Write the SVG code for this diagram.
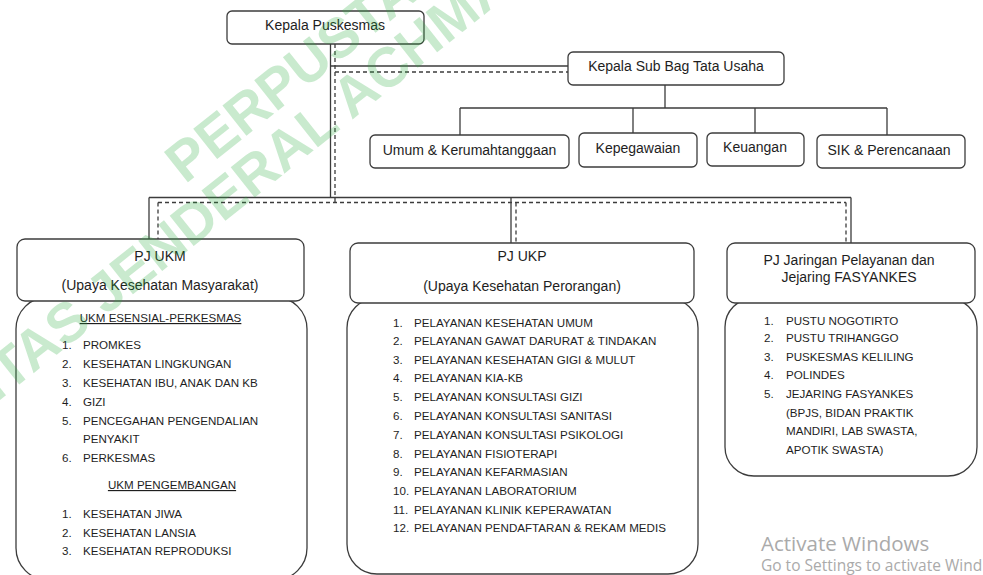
<svg xmlns="http://www.w3.org/2000/svg" width="983" height="575" viewBox="0 0 983 575">
<style>
.box{fill:#fff;stroke:#3c3c3c;stroke-width:1.3}
.ln{fill:none;stroke:#3c3c3c;stroke-width:1.3}
.ds{stroke-dasharray:4 3}
.h{font-family:"Liberation Sans",Arial,sans-serif;font-size:14px;fill:#1e1e1e}
.c{text-anchor:middle}
.li{font-family:"Liberation Sans",Arial,sans-serif;font-size:11.6px;fill:#1e1e1e}
.u{text-decoration:underline}
.wm{font-family:"Liberation Sans",Arial,sans-serif;font-weight:bold;font-size:56px;fill:#28aa3c;fill-opacity:0.25}
.win{font-family:"Open Sans","Noto Sans",sans-serif;fill:#aaaaaa}
</style>
<rect width="983" height="575" fill="#fff"/>
<g id="connectors">
  <path class="ln" d="M330.5 44V197.5M330.5 66H568"/>
  <path class="ln ds" d="M335 44V202.5M335 72H568"/>
  <path class="ln" d="M665 85V108M460 108H887M460 108V135M633 108V133M755 108V133M887 108V135"/>
  <path class="ln" d="M149 197.5H851M149 197.5V239M511 197.5V243M851 197.5V243"/>
  <path class="ln ds" d="M158 202.5H846M158 202.5V239M516 202.5V243M846 202.5V243"/>
</g>
<g id="kepala-puskesmas">
  <rect class="box" x="227" y="11" width="197" height="33" rx="5"/>
  <text class="h c" x="325" y="30">Kepala Puskesmas</text>
</g>
<g id="kepala-sub-bag">
  <rect class="box" x="568" y="52" width="216" height="33" rx="5"/>
  <text class="h c" x="676" y="71">Kepala Sub Bag Tata Usaha</text>
</g>
<g id="umum">
  <rect class="box" x="370" y="135" width="199" height="33" rx="5"/>
  <text class="h c" x="469.5" y="155">Umum &amp; Kerumahtanggaan</text>
</g>
<g id="kepegawaian">
  <rect class="box" x="579" y="133" width="118" height="34" rx="5"/>
  <text class="h c" x="638" y="153">Kepegawaian</text>
</g>
<g id="keuangan">
  <rect class="box" x="707" y="133" width="97" height="33" rx="5"/>
  <text class="h c" x="755" y="152">Keuangan</text>
</g>
<g id="sik">
  <rect class="box" x="817" y="135" width="148" height="33" rx="5"/>
  <text class="h c" x="889" y="155">SIK &amp; Perencanaan</text>
</g>
<g id="pj-ukm">
  <rect class="box" x="16" y="297" width="291" height="283" rx="32"/>
  <rect class="box" x="17" y="239" width="287" height="62" rx="8"/>
  <text class="h c" x="160" y="261">PJ UKM</text>
  <text class="h c" x="160" y="290">(Upaya Kesehatan Masyarakat)</text>
  <text class="li c u" x="160.5" y="322">UKM ESENSIAL-PERKESMAS</text>
  <text class="li" x="62" y="349">1.</text><text class="li" x="83" y="349">PROMKES</text>
  <text class="li" x="62" y="368">2.</text><text class="li" x="83" y="368">KESEHATAN LINGKUNGAN</text>
  <text class="li" x="62" y="387">3.</text><text class="li" x="83" y="387">KESEHATAN IBU, ANAK DAN KB</text>
  <text class="li" x="62" y="406">4.</text><text class="li" x="83" y="406">GIZI</text>
  <text class="li" x="62" y="425">5.</text><text class="li" x="83" y="425">PENCEGAHAN PENGENDALIAN</text>
  <text class="li" x="83" y="443">PENYAKIT</text>
  <text class="li" x="62" y="462">6.</text><text class="li" x="83" y="462">PERKESMAS</text>
  <text class="li c u" x="172" y="489">UKM PENGEMBANGAN</text>
  <text class="li" x="62" y="517.5">1.</text><text class="li" x="83" y="517.5">KESEHATAN JIWA</text>
  <text class="li" x="62" y="536.5">2.</text><text class="li" x="83" y="536.5">KESEHATAN LANSIA</text>
  <text class="li" x="62" y="555">3.</text><text class="li" x="83" y="555">KESEHATAN REPRODUKSI</text>
</g>
<g id="pj-ukp">
  <rect class="box" x="347" y="298" width="351" height="276" rx="30"/>
  <rect class="box" x="350" y="243" width="344" height="60" rx="8"/>
  <text class="h c" x="522" y="261">PJ UKP</text>
  <text class="h c" x="522" y="291">(Upaya Kesehatan Perorangan)</text>
  <text class="li" x="393" y="327">1.</text><text class="li" x="414" y="327">PELAYANAN KESEHATAN UMUM</text>
  <text class="li" x="393" y="345">2.</text><text class="li" x="414" y="345">PELAYANAN GAWAT DARURAT &amp; TINDAKAN</text>
  <text class="li" x="393" y="363.5">3.</text><text class="li" x="414" y="363.5">PELAYANAN KESEHATAN GIGI &amp; MULUT</text>
  <text class="li" x="393" y="382">4.</text><text class="li" x="414" y="382">PELAYANAN KIA-KB</text>
  <text class="li" x="393" y="401">5.</text><text class="li" x="414" y="401">PELAYANAN KONSULTASI GIZI</text>
  <text class="li" x="393" y="420">6.</text><text class="li" x="414" y="420">PELAYANAN KONSULTASI SANITASI</text>
  <text class="li" x="393" y="438.5">7.</text><text class="li" x="414" y="438.5">PELAYANAN KONSULTASI PSIKOLOGI</text>
  <text class="li" x="393" y="457.5">8.</text><text class="li" x="414" y="457.5">PELAYANAN FISIOTERAPI</text>
  <text class="li" x="393" y="476">9.</text><text class="li" x="414" y="476">PELAYANAN KEFARMASIAN</text>
  <text class="li" x="393" y="495">10.</text><text class="li" x="414" y="495">PELAYANAN LABORATORIUM</text>
  <text class="li" x="393" y="513.5">11.</text><text class="li" x="414" y="513.5">PELAYANAN KLINIK KEPERAWATAN</text>
  <text class="li" x="393" y="532">12.</text><text class="li" x="414" y="532">PELAYANAN PENDAFTARAN &amp; REKAM MEDIS</text>
</g>
<g id="pj-jaringan">
  <rect class="box" x="725" y="298" width="252" height="178" rx="29"/>
  <rect class="box" x="727" y="243" width="248" height="60" rx="8"/>
  <text class="h c" x="849" y="265">PJ Jaringan Pelayanan dan</text>
  <text class="h c" x="849" y="282">Jejaring FASYANKES</text>
  <text class="li" x="764" y="324.5">1.</text><text class="li" x="786" y="324.5">PUSTU NOGOTIRTO</text>
  <text class="li" x="764" y="342">2.</text><text class="li" x="786" y="342">PUSTU TRIHANGGO</text>
  <text class="li" x="764" y="361">3.</text><text class="li" x="786" y="361">PUSKESMAS KELILING</text>
  <text class="li" x="764" y="379">4.</text><text class="li" x="786" y="379">POLINDES</text>
  <text class="li" x="764" y="398">5.</text><text class="li" x="786" y="398">JEJARING FASYANKES</text>
  <text class="li" x="786" y="417">(BPJS, BIDAN PRAKTIK</text>
  <text class="li" x="786" y="435">MANDIRI, LAB SWASTA,</text>
  <text class="li" x="786" y="453.5">APOTIK SWASTA)</text>
</g>
<g id="watermark" transform="rotate(-38.5)">
  <text class="wm" x="30" y="259.5">PERPUSTAKAAN</text>
  <text class="wm" x="-502" y="313">UNIVERSITAS JENDERAL ACHMAD YANI</text>
</g>
<g id="activate-windows">
  <text class="win" x="761" y="551" font-size="20.5">Activate Windows</text>
  <text class="win" x="761" y="571" font-size="15.5">Go to Settings to activate Wind</text>
</g>
</svg>
